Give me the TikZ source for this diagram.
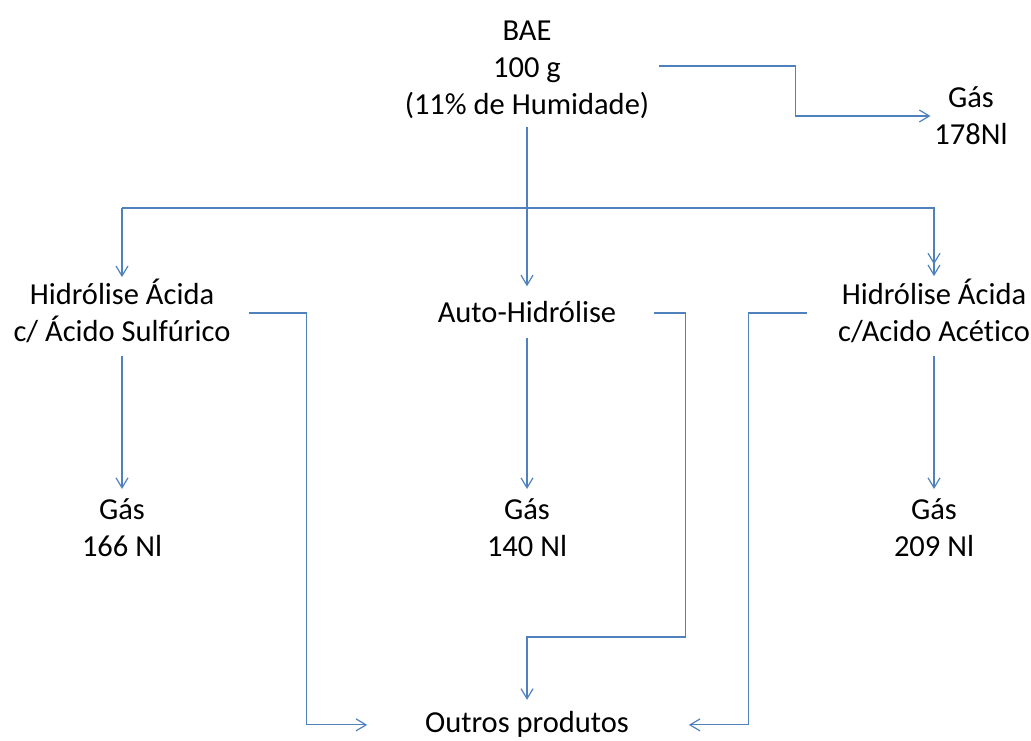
\documentclass[tikz,border=0pt]{standalone}
\usepackage{fontspec}
\setmainfont{Carlito}[Ligatures=NoCommon]
\usetikzlibrary{arrows.meta,positioning}

\definecolor{flowblue}{RGB}{79,129,189}

\begin{document}
\begin{tikzpicture}[
    x=1pt,y=1pt,
    every node/.style={font=\fontsize{30.5}{37}\selectfont},
    lbl/.style={align=center,inner sep=0pt,outer sep=0pt},
    flow/.style={draw=flowblue,line width=1.2pt,
      -{Straight Barb[length=10pt,width=12pt]}},
    flowtwo/.style={draw=flowblue,line width=1.2pt,
      -{Straight Barb[length=10pt,width=12pt,sep=0pt]Straight Barb[length=10pt,width=12pt]}},
    trunk/.style={draw=flowblue,line width=1.7pt}
  ]
    \useasboundingbox (0,0) rectangle (1031,-740);

    % Feed ---------------------------------------------------------
    \node[lbl] (bae) at (527,-70) {BAE\\100 g\\(11\% de Humidade)};
    \node[lbl] (gastop) at (971,-116) {Gás\\178Nl};
    \coordinate (split) at (527,-208);

    % Treatments ---------------------------------------------------
    \node[lbl] (hsulf) at (122,-311) {Hidrólise Ácida\\c/ Ácido Sulfúrico};
    \node[lbl] (autoh) at (527,-312) {Auto-Hidrólise};
    \node[lbl] (hacet) at (934,-311) {Hidrólise Ácida\\c/Acido Acético};

    % Gas yields ---------------------------------------------------
    \node[lbl] (gsulf) at (122,-528) {Gás\\166 Nl};
    \node[lbl] (gauto) at (527,-528) {Gás\\140 Nl};
    \node[lbl] (gacet) at (934,-528) {Gás\\209 Nl};

    % Other products
    \node[lbl,anchor=base] (outros) at (527,-732) {Outros produtos};

    % Feed connectors ----------------------------------------------
    \draw[flow] ([shift={(10,4)}]bae.east) -- ++(136,0)
      |- ([xshift=-4pt]gastop.west);
    \draw[trunk] ([yshift=-8pt]bae.south) -- (split);
    \draw[trunk] (split) -- (split -| hsulf.north);
    \draw[flow] (split -| hsulf.north) -- ([yshift=2pt]hsulf.north);
    \draw[flow] (split) -- ([yshift=15pt]autoh.north);
    \draw[flowtwo] (split) -| ([yshift=3pt]hacet.north);

    % Gas connectors -----------------------------------------------
    \draw[flow] ([yshift=-13pt]hsulf.south) -- ([yshift=10pt]gsulf.north);
    \draw[flow] ([yshift=-15pt]autoh.south) -- ([yshift=10pt]gauto.north);
    \draw[flow] ([yshift=-13pt]hacet.south) -- ([yshift=10pt]gacet.north);

    % Side streams -------------------------------------------------
    \draw[flow] ([shift={(19,-2)}]hsulf.east) -- ++(57,0)
      |- ([shift={(-58,-1)}]outros.west);
    \draw[flow] ([shift={(38,-1)}]autoh.east) -- ++(31,0) -- ++(0,-324)
      -| ([yshift=11pt]outros.north);
    \draw[flow] ([shift={(-31,-2)}]hacet.west) -- ++(-59,0)
      |- ([shift={(60,-1)}]outros.east);

  \end{tikzpicture}
\end{document}
